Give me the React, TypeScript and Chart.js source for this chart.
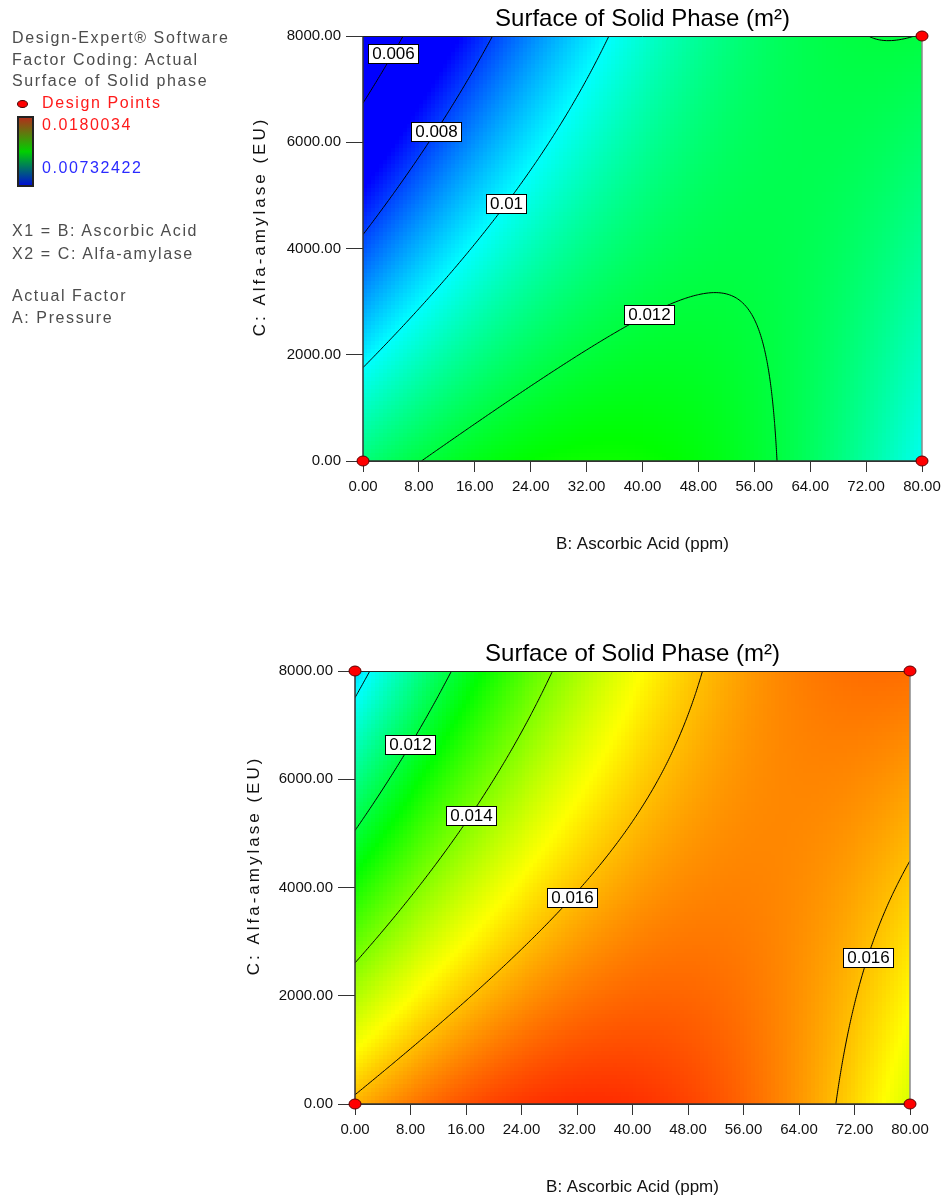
import React, { useEffect, useRef } from 'react';
import { Chart, registerables } from 'chart.js';

Chart.register(...registerables);

const FONT = '"Liberation Sans", Arial, Helvetica, sans-serif';

// Factor ranges (B: ascorbic acid in ppm, C: alfa-amylase in EU) and tick spacing
const ascorbicRange = [0, 80];
const amylaseRange = [0, 8000];
const ascorbicStep = 8;
const amylaseStep = 2000;

// Response limits spread over the blue → cyan → green → yellow → red ramp
const responseLow = 0.00732422;
const responseHigh = 0.0180034;

// Quadratic response in coded factors u (B) and v (C), both -1 … 1:
// [b0, u, v, u·v, u², v²]
const upperSurface = [0.01163, 0.00145, -0.00115, 0.00206, -0.00197, -0.00003];
const lowerSurface = [0.01635, 0.00151, -0.00115, 0.00212, -0.00198, 0.00001];

// Contour levels
const upperLevels = [0.006, 0.008, 0.01, 0.012];
const lowerLevels = [0.01, 0.012, 0.014, 0.016];

// Contour labels: text, level and approximate (B, C) anchor on the line
const upperLabelText = ['0.006', '0.008', '0.01', '0.012'];
const upperLabelLevel = [0.006, 0.008, 0.01, 0.012];
const upperLabelB = [3.96, 10.0, 20.0, 40.0];
const upperLabelC = [7686, 6225, 4875, 2874];

const lowerLabelText = ['0.012', '0.014', '0.016', '0.016'];
const lowerLabelLevel = [0.012, 0.014, 0.016, 0.016];
const lowerLabelB = [7.16, 15.8, 30.07, 73.08];
const lowerLabelC = [6675, 5382, 3892, 2732];

// Design points
const upperPointB = [0, 80, 80];
const upperPointC = [0, 0, 8000];
const lowerPointB = [0, 80, 0, 80];
const lowerPointC = [0, 0, 8000, 8000];

// Texts
const chartTitle = 'Surface of Solid Phase (m²)';
const xAxisTitle = 'B: Ascorbic Acid (ppm)';
const yAxisTitle = 'C: Alfa-amylase (EU)';
const legendHeader = ['Design-Expert® Software', 'Factor Coding: Actual', 'Surface of Solid phase'];
const legendPoints = 'Design Points';
const legendFactors = ['X1 = B: Ascorbic Acid', 'X2 = C: Alfa-amylase'];
const legendActual = ['Actual Factor', 'A: Pressure'];

const bMid = (ascorbicRange[0] + ascorbicRange[1]) / 2;
const bHalf = (ascorbicRange[1] - ascorbicRange[0]) / 2;
const cMid = (amylaseRange[0] + amylaseRange[1]) / 2;
const cHalf = (amylaseRange[1] - amylaseRange[0]) / 2;

function evalCoded(m: number[], u: number, v: number) {
  return m[0] + m[1] * u + m[2] * v + m[3] * u * v + m[4] * u * u + m[5] * v * v;
}

function evaluate(m: number[], b: number, c: number) {
  return evalCoded(m, (b - bMid) / bHalf, (c - cMid) / cHalf);
}

function ramp(val: number) {
  let t = (val - responseLow) / (responseHigh - responseLow);
  t = Math.max(0, Math.min(1, t));
  let r = 0, g = 0, b = 0;
  if (t < 0.25) {
    const s = t / 0.25; r = 0; g = 255 * s; b = 255;
  } else if (t < 0.5) {
    const s = (t - 0.25) / 0.25; r = 0; g = 255; b = 255 * (1 - s);
  } else if (t < 0.75) {
    const s = (t - 0.5) / 0.25; r = 255 * s; g = 255; b = 0;
  } else {
    const s = (t - 0.75) / 0.25; r = 255; g = 255 * (1 - s); b = 0;
  }
  return `rgb(${Math.round(r)},${Math.round(g)},${Math.round(b)})`;
}

// Marching squares over the factor space; returns segments in data units
function contourSegments(m: number[], level: number, n: number) {
  const segs: number[][] = [];
  const db = (ascorbicRange[1] - ascorbicRange[0]) / n;
  const dc = (amylaseRange[1] - amylaseRange[0]) / n;
  const grid: number[][] = [];
  for (let i = 0; i <= n; i++) {
    const row: number[] = [];
    for (let j = 0; j <= n; j++) {
      row.push(evaluate(m, ascorbicRange[0] + i * db, amylaseRange[0] + j * dc) - level);
    }
    grid.push(row);
  }
  for (let i = 0; i < n; i++) {
    for (let j = 0; j < n; j++) {
      const v00 = grid[i][j], v10 = grid[i + 1][j], v11 = grid[i + 1][j + 1], v01 = grid[i][j + 1];
      const bi = ascorbicRange[0] + i * db, cj = amylaseRange[0] + j * dc;
      const pts: number[][] = [];
      if ((v00 < 0) !== (v10 < 0)) { const t = v00 / (v00 - v10); pts.push([bi + t * db, cj]); }
      if ((v10 < 0) !== (v11 < 0)) { const t = v10 / (v10 - v11); pts.push([bi + db, cj + t * dc]); }
      if ((v01 < 0) !== (v11 < 0)) { const t = v01 / (v01 - v11); pts.push([bi + t * db, cj + dc]); }
      if ((v00 < 0) !== (v01 < 0)) { const t = v00 / (v00 - v01); pts.push([bi, cj + t * dc]); }
      if (pts.length === 2) segs.push([...pts[0], ...pts[1]]);
      else if (pts.length === 4) { segs.push([...pts[0], ...pts[1]]); segs.push([...pts[2], ...pts[3]]); }
    }
  }
  return segs;
}

// Slide a label anchor onto its contour line
function snapToLevel(m: number[], level: number, b: number, c: number) {
  let u = (b - bMid) / bHalf, v = (c - cMid) / cHalf;
  for (let k = 0; k < 10; k++) {
    const f = evalCoded(m, u, v) - level;
    const gu = m[1] + m[3] * v + 2 * m[4] * u;
    const gv = m[2] + m[3] * u + 2 * m[5] * v;
    const g2 = gu * gu + gv * gv;
    if (g2 === 0) break;
    u -= (f * gu) / g2;
    v -= (f * gv) / g2;
  }
  return [bMid + bHalf * u, cMid + cHalf * v];
}

function makeMarker() {
  const cv = document.createElement('canvas');
  cv.width = 14; cv.height = 12;
  const g = cv.getContext('2d')!;
  g.beginPath();
  g.ellipse(7, 6, 6, 5, 0, 0, Math.PI * 2);
  g.fillStyle = '#ff0000';
  g.fill();
  g.lineWidth = 1;
  g.strokeStyle = '#5a0000';
  g.stroke();
  return cv;
}

type PlotSpec = {
  model: number[];
  levels: number[];
  labelText: string[];
  labelLevel: number[];
  labelB: number[];
  labelC: number[];
  pointB: number[];
  pointC: number[];
  pageTop: number;
  height: number;
  area: { left: number; right: number; top: number; bottom: number };
  titleCenter: number;
  xTitleCenter: number;
  yTitleX: number;
};

const WIDTH = 949;

function makeSurfacePlugin(spec: PlotSpec) {
  return {
    id: 'surface',
    beforeDatasetsDraw(chart: any) {
      const { ctx, chartArea: a, scales } = chart;
      const xs = scales.x, ys = scales.y;
      ctx.save();
      // colour-filled response surface, cell edges shared between neighbours
      const nx = 140, ny = 106;
      const db = (ascorbicRange[1] - ascorbicRange[0]) / nx;
      const dc = (amylaseRange[1] - amylaseRange[0]) / ny;
      const xEdge: number[] = [];
      const yEdge: number[] = [];
      for (let i = 0; i <= nx; i++) xEdge.push(Math.round(xs.getPixelForValue(ascorbicRange[0] + i * db)));
      for (let j = 0; j <= ny; j++) yEdge.push(Math.round(ys.getPixelForValue(amylaseRange[0] + j * dc)));
      for (let i = 0; i < nx; i++) {
        const bc = ascorbicRange[0] + (i + 0.5) * db;
        for (let j = 0; j < ny; j++) {
          const cc = amylaseRange[0] + (j + 0.5) * dc;
          ctx.fillStyle = ramp(evaluate(spec.model, bc, cc));
          ctx.fillRect(xEdge[i], yEdge[j + 1], xEdge[i + 1] - xEdge[i], yEdge[j] - yEdge[j + 1]);
        }
      }
      // contour lines
      ctx.beginPath();
      ctx.rect(a.left, a.top, a.right - a.left, a.bottom - a.top);
      ctx.clip();
      ctx.beginPath();
      for (const level of spec.levels) {
        for (const s of contourSegments(spec.model, level, 220)) {
          ctx.moveTo(xs.getPixelForValue(s[0]), ys.getPixelForValue(s[1]));
          ctx.lineTo(xs.getPixelForValue(s[2]), ys.getPixelForValue(s[3]));
        }
      }
      ctx.lineWidth = 1;
      ctx.strokeStyle = '#000';
      ctx.stroke();
      // contour labels
      ctx.font = `17px ${FONT}`;
      ctx.textAlign = 'center';
      ctx.textBaseline = 'middle';
      spec.labelText.forEach((text, k) => {
        const [b, c] = snapToLevel(spec.model, spec.labelLevel[k], spec.labelB[k], spec.labelC[k]);
        const px = xs.getPixelForValue(b), py = ys.getPixelForValue(c);
        const w = Math.round(ctx.measureText(text).width + 7), h = 19;
        const lx = Math.round(px - w / 2), ly = Math.round(py - h / 2);
        ctx.fillStyle = '#fff';
        ctx.fillRect(lx, ly, w, h);
        ctx.strokeStyle = '#000';
        ctx.strokeRect(lx + 0.5, ly + 0.5, w, h);
        ctx.fillStyle = '#000';
        ctx.fillText(text, lx + w / 2 + 0.5, ly + h / 2 + 1);
      });
      ctx.restore();
      // frame
      ctx.save();
      ctx.lineWidth = 1.5;
      ctx.strokeStyle = '#333';
      ctx.beginPath();
      ctx.moveTo(a.left, a.top);
      ctx.lineTo(a.left, a.bottom);
      ctx.lineTo(a.right, a.bottom);
      ctx.stroke();
      ctx.lineWidth = 1;
      ctx.strokeStyle = '#222';
      ctx.beginPath();
      ctx.moveTo(a.left, a.top + 0.5);
      ctx.lineTo(a.right, a.top + 0.5);
      ctx.stroke();
      ctx.lineWidth = 1.5;
      ctx.strokeStyle = '#8a8a8a';
      ctx.beginPath();
      ctx.moveTo(a.right, a.top);
      ctx.lineTo(a.right, a.bottom);
      ctx.stroke();
      ctx.restore();
    },
    afterDraw(chart: any) {
      const { ctx, chartArea: a } = chart;
      ctx.save();
      ctx.translate(spec.yTitleX, (a.top + a.bottom) / 2 - 22);
      ctx.rotate(-Math.PI / 2);
      ctx.font = `17px ${FONT}`;
      (ctx as any).letterSpacing = '3px';
      ctx.fillStyle = '#111';
      ctx.textAlign = 'center';
      ctx.textBaseline = 'middle';
      ctx.fillText(yAxisTitle, 0, 0);
      ctx.restore();
    },
  };
}

function ContourPlot({ spec }: { spec: PlotSpec }) {
  const ref = useRef<HTMLCanvasElement>(null);
  useEffect(() => {
    const canvas = ref.current;
    if (!canvas) return;
    const { area, height } = spec;
    const titleLH = 24 * 1.2;
    const xTitleLH = 17 * 1.2;
    const marker = makeMarker();
    const chart = new Chart(canvas, {
      type: 'scatter',
      data: {
        datasets: [
          {
            data: spec.pointB.map((b, i) => ({ x: b, y: spec.pointC[i] })),
            pointStyle: marker as any,
            pointRadius: 6,
            pointHoverRadius: 6,
            backgroundColor: '#ff0000',
            borderColor: '#5a0000',
            clip: false as any,
          },
        ],
      },
      options: {
        animation: false,
        responsive: false,
        maintainAspectRatio: false,
        events: [],
        layout: { padding: { left: 0, right: WIDTH - area.right, top: 0, bottom: 0 } },
        plugins: {
          legend: { display: false },
          tooltip: { enabled: false },
          title: {
            display: true,
            text: chartTitle,
            fullSize: false,
            color: '#000',
            font: { family: FONT, size: 24, weight: 'normal' as any, lineHeight: 1.2 },
            padding: { top: spec.titleCenter - titleLH / 2, bottom: area.top - spec.titleCenter - titleLH / 2 },
          },
        },
        scales: {
          x: {
            type: 'linear',
            min: ascorbicRange[0],
            max: ascorbicRange[1],
            afterFit: (s: any) => {
              s.height = height - area.bottom;
              s.paddingLeft = 0;
              s.paddingRight = 0;
            },
            ticks: {
              stepSize: ascorbicStep,
              autoSkip: false,
              maxRotation: 0,
              minRotation: 0,
              padding: 6,
              color: '#111',
              font: { family: FONT, size: 15 },
              callback: (v: any) => Number(v).toFixed(2),
            },
            grid: { drawOnChartArea: false, drawTicks: true, tickLength: 11, color: '#333', lineWidth: 1 },
            border: { display: true, color: '#333', width: 1 },
            title: {
              display: true,
              text: xAxisTitle,
              color: '#111',
              font: { family: FONT, size: 17, lineHeight: 1.2 },
              padding: { top: 0, bottom: height - spec.xTitleCenter - xTitleLH / 2 },
            },
          },
          y: {
            type: 'linear',
            min: amylaseRange[0],
            max: amylaseRange[1],
            afterFit: (s: any) => {
              s.width = area.left;
              s.paddingTop = 0;
              s.paddingBottom = 0;
            },
            ticks: {
              stepSize: amylaseStep,
              autoSkip: false,
              padding: 5,
              color: '#111',
              font: { family: FONT, size: 15 },
              callback: (v: any) => Number(v).toFixed(2),
            },
            grid: { drawOnChartArea: false, drawTicks: true, tickLength: 17, color: '#333', lineWidth: 1 },
            border: { display: true, color: '#333', width: 1 },
            title: { display: false },
          },
        },
      },
      plugins: [makeSurfacePlugin(spec)],
    } as any);
    return () => chart.destroy();
  }, [spec]);
  return (
    <canvas
      ref={ref}
      width={WIDTH}
      height={spec.height}
      style={{ position: 'absolute', left: 0, top: spec.pageTop, width: WIDTH, height: spec.height }}
    />
  );
}

const upperSpec: PlotSpec = {
  model: upperSurface,
  levels: upperLevels,
  labelText: upperLabelText,
  labelLevel: upperLabelLevel,
  labelB: upperLabelB,
  labelC: upperLabelC,
  pointB: upperPointB,
  pointC: upperPointC,
  pageTop: 0,
  height: 590,
  area: { left: 363, right: 922, top: 36, bottom: 461 },
  titleCenter: 19.5,
  xTitleCenter: 544,
  yTitleX: 260,
};

const lowerSpec: PlotSpec = {
  model: lowerSurface,
  levels: lowerLevels,
  labelText: lowerLabelText,
  labelLevel: lowerLabelLevel,
  labelB: lowerLabelB,
  labelC: lowerLabelC,
  pointB: lowerPointB,
  pointC: lowerPointC,
  pageTop: 590,
  height: 612,
  area: { left: 355, right: 910, top: 81, bottom: 514 },
  titleCenter: 64.5,
  xTitleCenter: 597,
  yTitleX: 254,
};

function LegendLine({ text, y, x, color }: { text: string; y: number; x: number; color: string }) {
  return (
    <div
      style={{
        position: 'absolute',
        left: x,
        top: y - 7.8,
        fontFamily: FONT,
        fontSize: 16,
        lineHeight: '16px',
        letterSpacing: '1.6px',
        color,
        whiteSpace: 'nowrap',
      }}
    >
      {text}
    </div>
  );
}

export default function App() {
  const grey = '#4d4d4d';
  return (
    <div
      style={{
        position: 'absolute',
        left: 0,
        top: 0,
        width: WIDTH,
        height: 1202,
        background: '#fff',
        overflow: 'hidden',
      }}
    >
      <ContourPlot spec={upperSpec} />
      <ContourPlot spec={lowerSpec} />
      <LegendLine text={legendHeader[0]} y={38} x={12} color={grey} />
      <LegendLine text={legendHeader[1]} y={59.5} x={12} color={grey} />
      <LegendLine text={legendHeader[2]} y={81} x={12} color={grey} />
      <div
        style={{
          position: 'absolute',
          left: 17,
          top: 100,
          width: 11,
          height: 8,
          borderRadius: '50%',
          background: '#ff0000',
          border: '1px solid #400',
          boxSizing: 'border-box',
        }}
      />
      <LegendLine text={legendPoints} y={103} x={42} color="#ff1a1a" />
      <div
        style={{
          position: 'absolute',
          left: 17,
          top: 116,
          width: 17,
          height: 71,
          boxSizing: 'border-box',
          border: '2px solid #222',
          background: 'linear-gradient(to bottom, #b0301a 0%, #00d000 50%, #0010d0 100%)',
        }}
      />
      <LegendLine text={String(responseHigh)} y={125} x={42} color="#ff1a1a" />
      <LegendLine text={String(responseLow)} y={168} x={42} color="#2a2aff" />
      <LegendLine text={legendFactors[0]} y={231} x={12} color={grey} />
      <LegendLine text={legendFactors[1]} y={253.5} x={12} color={grey} />
      <LegendLine text={legendActual[0]} y={296} x={12} color={grey} />
      <LegendLine text={legendActual[1]} y={318} x={12} color={grey} />
    </div>
  );
}
